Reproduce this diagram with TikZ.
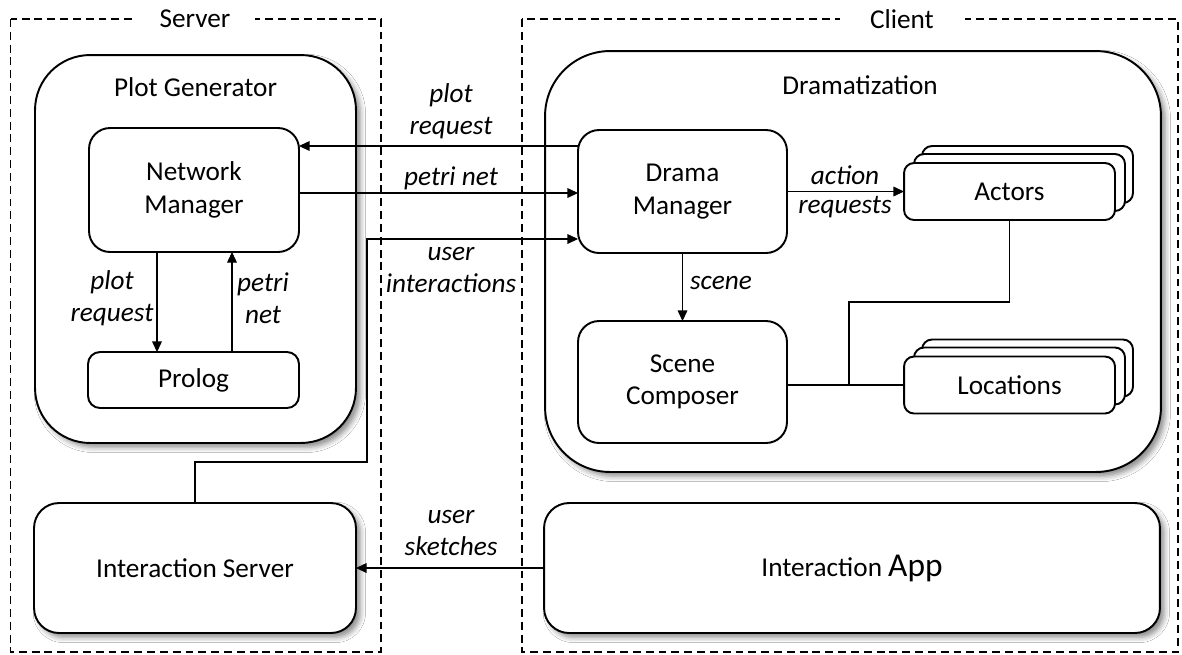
\documentclass[tikz,border=0pt]{standalone}
\usepackage{fontspec}
\setmainfont{Carlito}
\usetikzlibrary{arrows.meta,shadows.blur,calc}
\begin{document}
\begin{tikzpicture}[x=0.02cm,y=-0.02cm,
  font=\fontsize{15.5}{18.5}\selectfont,
  box/.style={draw,line width=1.1pt,fill=white,inner sep=0pt,outer sep=0pt,align=center},
  bigbox/.style={box,blur shadow={shadow xshift=2.5pt,shadow yshift=-2.5pt,shadow blur radius=3pt,shadow opacity=45}},
  cont/.style={draw,line width=1.1pt,dash pattern=on 4.5pt off 2.8pt},
  arr/.style={line width=0.6pt,-{Triangle[length=6pt,width=5.5pt]}},
  conn/.style={line width=0.6pt},
  lbl/.style={font=\fontsize{15.5}{18.5}\selectfont\itshape,align=center,inner sep=1pt},
  ttl/.style={fill=white,inner sep=0pt,minimum height=0.6cm}]
\fill[white] (0,0) rectangle (1182,654);
\useasboundingbox (0,0) rectangle (1182,654);

% containers
\draw[cont] (10.5,19) rectangle (381,652);
\draw[cont] (522,19) rectangle (1178,652);
\node[ttl,minimum width=2.4cm] (srvt) at (195,19) {Server};
\node[ttl,minimum width=2.5cm] (clit) at (902,19) {Client};

% server side
\node[bigbox,minimum width=6.42cm,minimum height=7.76cm,rounded corners=1.1cm] (pg) at (195.5,249) {};
\node (pgt) at (195.5,87) {Plot Generator};
\node[box,minimum width=4.2cm,minimum height=2.48cm,rounded corners=0.42cm] (nm) at (194,190) {Network\\Manager};
\node[box,minimum width=4.22cm,minimum height=1.12cm,rounded corners=0.24cm] (pro) at (193.5,380) {Prolog};
\node[bigbox,minimum width=6.44cm,minimum height=2.6cm,rounded corners=0.5cm] (is) at (195,568) {Interaction Server};

% client side
\node[bigbox,minimum width=12.32cm,minimum height=8.42cm,rounded corners=1.3cm] (dr) at (853,261.5) {};
\node (drt) at (860,85) {Dramatization};
\node[box,minimum width=4.18cm,minimum height=2.46cm,rounded corners=0.42cm] (dm) at (682.5,191.5) {Drama\\Manager};
\node[box,minimum width=4.18cm,minimum height=2.44cm,rounded corners=0.42cm] (sc) at (682.5,382) {Scene\\Composer};
\node[box,minimum width=4.22cm,minimum height=1.14cm,rounded corners=0.2cm] (actb2) at (1027.5,174.5) {};
\node[box,minimum width=4.22cm,minimum height=1.14cm,rounded corners=0.2cm] (actb1) at (1019.5,182.5) {};
\node[box,minimum width=4.22cm,minimum height=1.14cm,rounded corners=0.2cm] (act) at (1009.5,191.5) {Actors};
\node[box,minimum width=4.22cm,minimum height=1.14cm,rounded corners=0.2cm] (locb2) at (1027.5,368) {};
\node[box,minimum width=4.22cm,minimum height=1.14cm,rounded corners=0.2cm] (locb1) at (1019.5,376) {};
\node[box,minimum width=4.22cm,minimum height=1.14cm,rounded corners=0.2cm] (loc) at (1009.5,385) {Locations};
\node[bigbox,minimum width=12.32cm,minimum height=2.6cm,rounded corners=0.5cm] (ia) at (852,568) {Interaction {\fontsize{19}{22}\selectfont App}};

% helper coordinates
\coordinate (yplot) at (0,146);
\coordinate (ypetri) at (0,193);
\coordinate (yui) at (0,239);
\coordinate (ui1) at (367,462);
\coordinate (xa) at (157,0);
\coordinate (xb) at (232,0);
\coordinate (jn) at (849,385);
\coordinate (yj) at (0,302);
\coordinate (ysk) at (0,568);

% connectors
\draw[arr] (dm.west |- yplot) -- (nm.east |- yplot);
\draw[arr] (nm.east |- ypetri) -- (dm.west |- ypetri);
\draw[arr] (is.north) |- (ui1) |- (dm.west |- yui);
\draw[arr] (nm.south -| xa) -- (pro.north -| xa);
\draw[arr] (pro.north -| xb) -- (nm.south -| xb);
\draw[arr] (dm.south) -- (sc.north);
\draw[arr] (dm.east) -- (act.west);
\draw[arr] (ia.west |- ysk) -- (is.east |- ysk);
\draw[conn] (sc.east |- loc.west) -- (loc.west);
\draw[conn] (jn) -- (jn |- yj) -| (act.south);

% labels
\node[lbl] (l1) at (451,111) {plot\\request};
\node[lbl] (l2) at (451,178) {petri net};
\node[lbl] (l3) at (451,270) {user\\interactions};
\node[lbl] (l4) at (112,298) {plot\\request};
\node[lbl] (l5) at (263,298) {petri\\net};
\node[lbl,anchor=west] (l6) at (688,283) {scene};
\node[lbl] (l7) at (845,192) {action\\[-2pt]requests};
\node[lbl] (l8) at (451,533) {user\\sketches};
\end{tikzpicture}
\end{document}
